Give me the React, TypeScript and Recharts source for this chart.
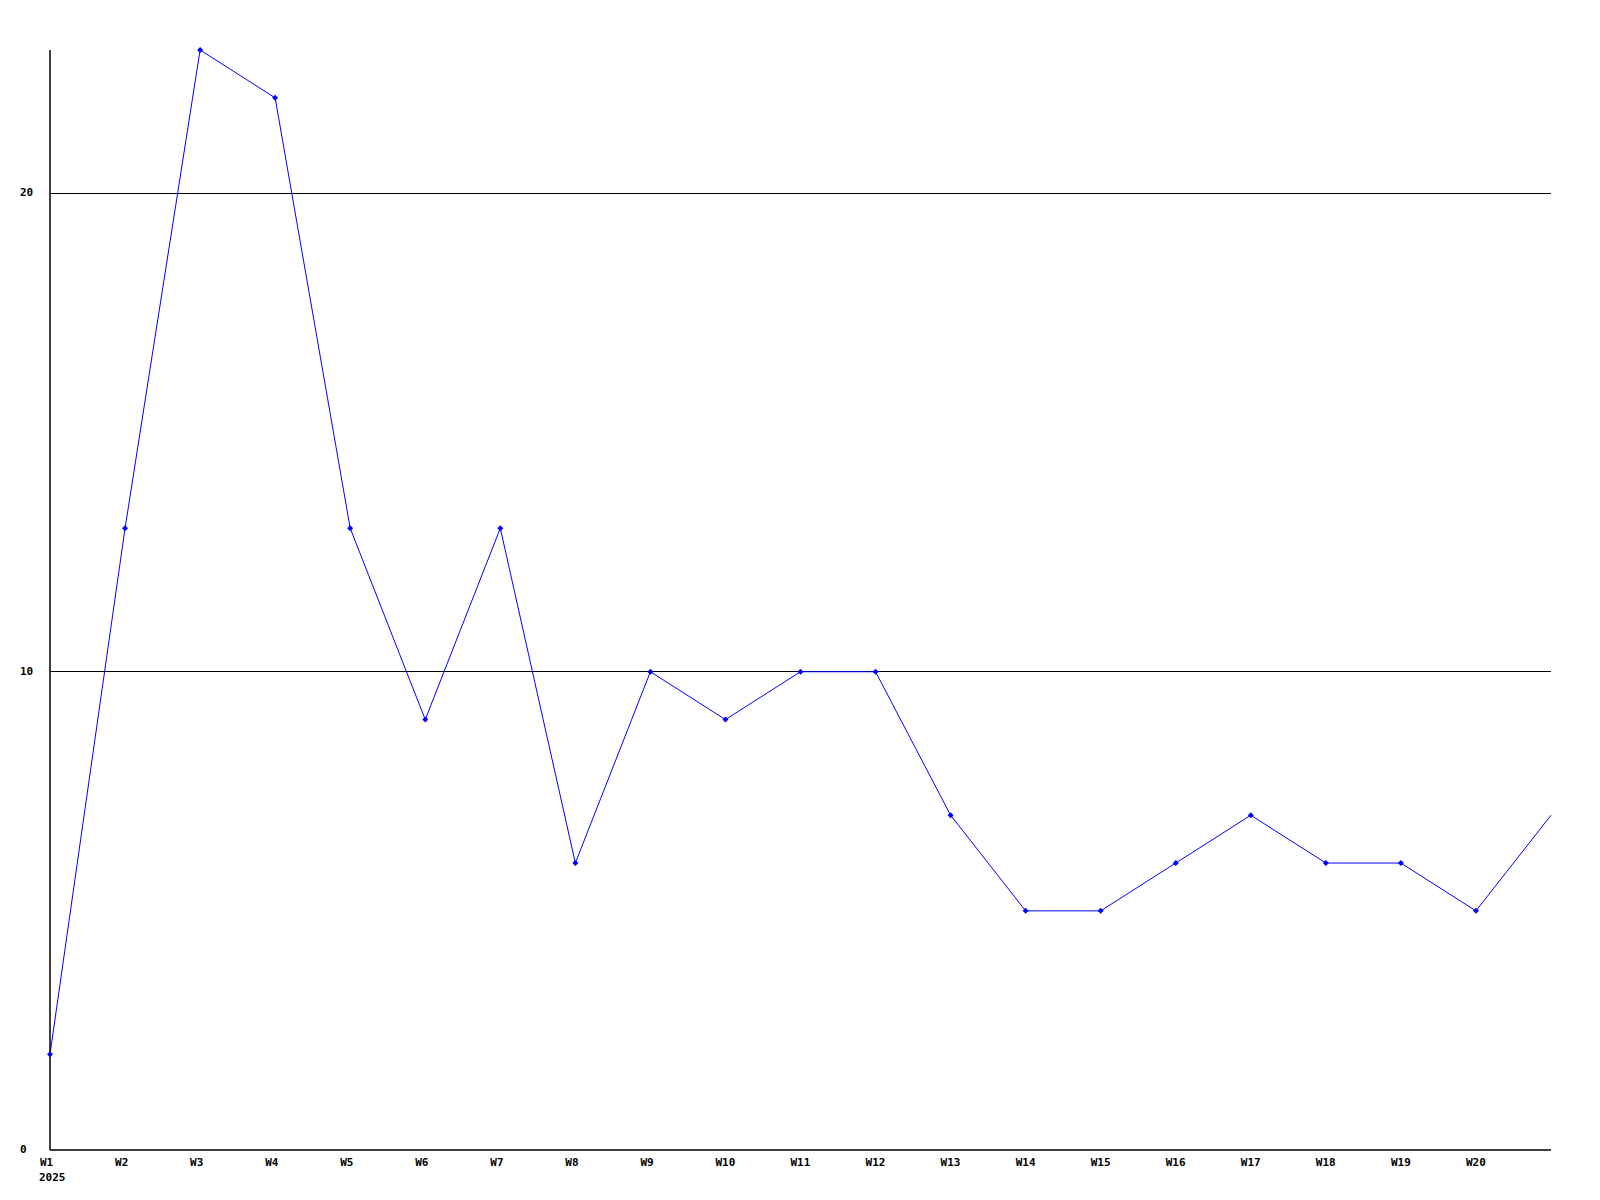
import React from "react";
import { LineChart, Line, XAxis, YAxis, CartesianGrid } from "recharts";

const categories = ["W1","W2","W3","W4","W5","W6","W7","W8","W9","W10","W11","W12","W13","W14","W15","W16","W17","W18","W19","W20","W21"];
const values = [2,13,23,22,13,9,13,6,10,9,10,10,7,5,5,6,7,6,6,5,7];
const yTicks = [0,10,20];
const yearLabel = "2025";

const data = categories.map((c, i) => ({ week: c, value: values[i] }));

const FONT = "'DejaVu Sans Mono', monospace";

const XTick = (props: any) => {
  const { x, y, payload, index } = props;
  if (index === categories.length - 1) return null;
  return (
    <g>
      <text x={x - 10} y={y + 5} textAnchor="start" fontFamily={FONT} fontSize={11} fontWeight="bold" fill="#000" dominantBaseline="middle">
        {payload.value}
      </text>
      {index === 0 && (
        <text x={x - 11} y={y + 20} textAnchor="start" fontFamily={FONT} fontSize={11} fontWeight="bold" fill="#000" dominantBaseline="middle">
          {yearLabel}
        </text>
      )}
    </g>
  );
};

const YTick = (props: any) => {
  const { y, payload } = props;
  return (
    <text x={20} y={y} textAnchor="start" fontFamily={FONT} fontSize={11} fontWeight="bold" fill="#000" dominantBaseline="middle">
      {payload.value}
    </text>
  );
};

const Diamond = (props: any) => {
  const { cx, cy, index } = props;
  if (index === categories.length - 1) return <g key={`d${index}`} />;
  return (
    <path key={`d${index}`} d={`M${cx},${cy - 3} L${cx + 3},${cy} L${cx},${cy + 3} L${cx - 3},${cy} Z`} fill="#0000ff" stroke="none" />
  );
};

export default function App() {
  return (
    <div style={{ position: "absolute", left: 0, top: 0, width: 1600, height: 1200, background: "#fff" }}>
      <LineChart width={1600} height={1200} data={data} margin={{ top: 50, right: 49, bottom: 0, left: 0 }}>
        <CartesianGrid horizontal={true} vertical={false} stroke="#000" strokeWidth={1} shapeRendering="crispEdges" horizontalValues={[10, 20]} />
        <XAxis dataKey="week" scale="point" padding={{ left: 0, right: 0 }} axisLine={{ stroke: "#000", strokeWidth: 1.5 }} tickLine={false} tick={<XTick />} interval={0} height={50} />
        <YAxis domain={[0, 23]} ticks={yTicks} axisLine={{ stroke: "#000", strokeWidth: 1.5 }} tickLine={false} tick={<YTick />} width={50} />
        <Line type="linear" dataKey="value" stroke="#0000ff" strokeWidth={1} dot={<Diamond />} activeDot={false} isAnimationActive={false} />
      </LineChart>
    </div>
  );
}
